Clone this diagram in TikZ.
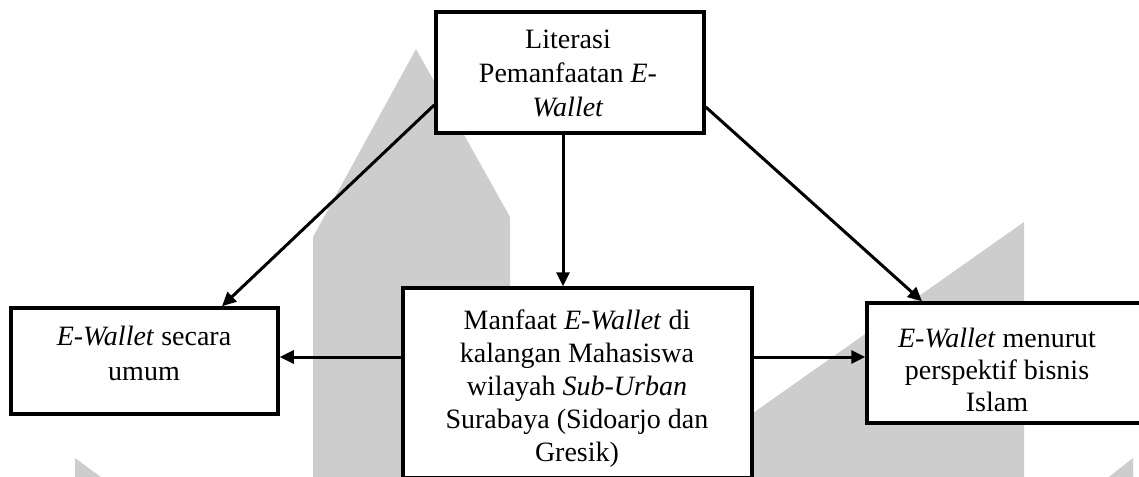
\documentclass[tikz,border=0pt]{standalone}
\usepackage{fontspec}
\setmainfont{Liberation Serif}
\usetikzlibrary{arrows.meta,calc}
\definecolor{wm}{RGB}{205,205,205}
\tikzset{
  box/.style={draw=black, line width=3.5pt, fill=white, rectangle, inner sep=0pt},
  lbl/.style={align=center, inner sep=0pt, font=\fontsize{28}{34}\selectfont},
  arr/.style={draw=black, line width=3pt, -{Triangle[length=14pt,width=13pt]}},
  wmfill/.style={fill=wm, draw=none}
}
\begin{document}
\begin{tikzpicture}[x=1pt,y=-1pt]
\useasboundingbox (0,0) rectangle (1139,476);
\clip (0,0) rectangle (1139,476);
\fill[white] (0,0) rectangle (1139,476);
% watermark shapes
\path[wmfill] (313,480) -- (313,237) -- (416,49) -- (510,217) -- (510,480) -- cycle;
\path[wmfill] (658,480) -- (1024,222) -- (1024,480) -- cycle;
\path[wmfill] (75,458) -- (75,480) -- (105,480) -- cycle;
\path[wmfill] (1105,480) -- (1133,458) -- (1133,480) -- cycle;
% boxes
\node[box, minimum width=268pt, minimum height=121pt] (top) at (570,72.5) {};
\node[box, minimum width=267pt, minimum height=106pt] (left) at (144.5,361) {};
\node[box, minimum width=349pt, minimum height=190pt] (mid) at (577.5,383) {};
\node[box, minimum width=274pt, minimum height=120pt] (right) at (1004,363) {};
% texts
\node[lbl] (toptxt) at (568,73) {Literasi\\Pemanfaatan \textit{E-}\\\textit{Wallet}};
\node[lbl, font=\fontsize{28}{35}\selectfont] (lefttxt) at (144,353) {\textit{E-Wallet} secara\\umum};
\node[lbl, font=\fontsize{28}{33}\selectfont] (midtxt) at (577,389) {Manfaat \textit{E-Wallet} di\\kalangan Mahasiswa\\wilayah \textit{Sub-Urban}\\Surabaya (Sidoarjo dan\\Gresik)};
\node[lbl, font=\fontsize{28}{32}\selectfont] (righttxt) at (997,370) {\textit{E-Wallet} menurut\\perspektif bisnis\\Islam};
% connectors
\draw[arr] ([xshift=-7pt]top.south) -- ([xshift=-14.5pt]mid.north);
\draw[arr] ([yshift=26pt]mid.west) -- ([yshift=26pt]mid.west -| left.east);
\draw[arr] ([yshift=26pt]mid.east) -- ([yshift=26pt]mid.east -| right.west);
\draw[arr] ([yshift=-32.5pt]top.west) -- ([xshift=77.5pt]left.north);
\draw[arr] ([yshift=-34.5pt]top.east) -- ([xshift=-82pt]right.north);
\end{tikzpicture}
\end{document}
